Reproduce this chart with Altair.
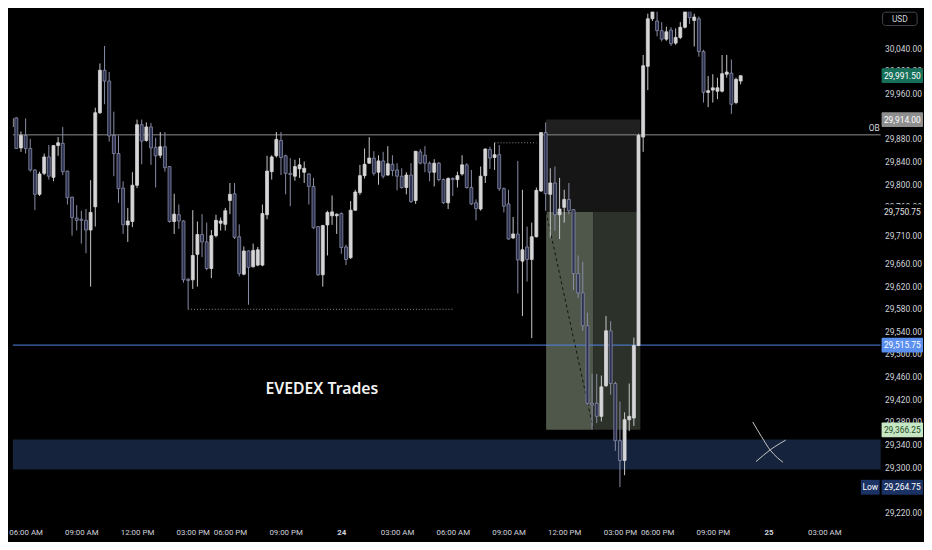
import altair as alt
import pandas as pd

# ---------------- data (15-minute candles) ----------------
opens = [29901, 29917, 29864, 29886, 29863, 29825, 29782, 29819, 29848, 29812,
         29868, 29872, 29823, 29777, 29740, 29738, 29736, 29719, 29760, 29926,
         30001, 29982, 29886, 29854, 29793, 29728, 29734, 29798, 29905, 29877,
         29901, 29865, 29851, 29866, 29831, 29734, 29746, 29735, 29632, 29631,
         29676, 29711, 29698, 29651, 29709, 29731, 29729, 29771, 29783, 29707,
         29641, 29682, 29654, 29657, 29657, 29746, 29822, 29850, 29877, 29850,
         29819, 29814, 29827, 29821, 29818, 29796, 29725, 29640, 29728, 29744,
         29744, 29748, 29689, 29670, 29754, 29785, 29815, 29837, 29846, 29821,
         29841, 29816, 29835, 29825, 29814, 29794, 29816, 29771, 29857, 29851,
         29837, 29821, 29837, 29808, 29767, 29810, 29808, 29818, 29834, 29794,
         29767, 29756, 29815, 29861, 29847, 29852, 29792, 29765, 29705, 29712,
         29664, 29689, 29667, 29707, 29788, 29891, 29782, 29802, 29746, 29759,
         29773, 29755, 29642, 29608, 29550, 29413, 29413, 29390, 29444, 29541,
         29448, 29347, 29312, 29384, 29387, 29515, 29883, 30008, 30092, 30088,
         30071, 30056, 30072, 30049, 30059, 30077, 30111, 30089, 30092, 30034,
         29962, 29966, 29964, 29964, 29994, 29996, 29944, 29982]
highs = [29934, 29918, 29893, 29916, 29880, 29826, 29822, 29854, 29869, 29869,
         29883, 29901, 29824, 29778, 29763, 29753, 29756, 29807, 29935, 30013,
         30044, 29998, 29928, 29886, 29805, 29758, 29821, 29914, 29914, 29909,
         29908, 29882, 29892, 29892, 29832, 29783, 29764, 29736, 29634, 29754,
         29734, 29747, 29732, 29719, 29746, 29741, 29758, 29802, 29802, 29729,
         29690, 29683, 29695, 29689, 29764, 29850, 29851, 29892, 29892, 29852,
         29846, 29843, 29846, 29840, 29819, 29811, 29726, 29728, 29753, 29780,
         29748, 29750, 29693, 29770, 29790, 29834, 29863, 29883, 29858, 29851,
         29857, 29867, 29851, 29837, 29828, 29821, 29837, 29858, 29862, 29867,
         29840, 29844, 29839, 29810, 29812, 29812, 29822, 29851, 29837, 29825,
         29773, 29831, 29863, 29866, 29873, 29869, 29794, 29790, 29742, 29841,
         29790, 29725, 29732, 29794, 29892, 29909, 29828, 29831, 29811, 29790,
         29802, 29755, 29674, 29663, 29573, 29465, 29465, 29462, 29567, 29558,
         29451, 29416, 29397, 29448, 29529, 29889, 30028, 30101, 30118, 30115,
         30086, 30078, 30077, 30075, 30086, 30117, 30117, 30101, 30096, 30037,
         29991, 29994, 29988, 30028, 30028, 30020, 29988, 29992]
lows = [29892, 29862, 29857, 29854, 29822, 29754, 29779, 29816, 29808, 29805,
        29850, 29816, 29764, 29709, 29718, 29695, 29678, 29619, 29725, 29924,
        29941, 29875, 29814, 29767, 29712, 29698, 29724, 29793, 29835, 29875,
        29834, 29794, 29846, 29822, 29732, 29712, 29721, 29626, 29579, 29615,
        29619, 29671, 29648, 29634, 29706, 29718, 29718, 29747, 29703, 29637,
        29639, 29587, 29653, 29655, 29655, 29738, 29808, 29847, 29816, 29782,
        29761, 29806, 29811, 29802, 29764, 29721, 29638, 29619, 29674, 29728,
        29712, 29677, 29657, 29668, 29753, 29781, 29810, 29836, 29815, 29799,
        29810, 29815, 29814, 29789, 29792, 29782, 29767, 29765, 29835, 29821,
        29805, 29796, 29805, 29765, 29756, 29779, 29794, 29815, 29792, 29763,
        29736, 29753, 29802, 29827, 29825, 29788, 29750, 29702, 29703, 29607,
        29567, 29628, 29528, 29706, 29786, 29753, 29706, 29718, 29703, 29732,
        29747, 29613, 29599, 29541, 29410, 29367, 29378, 29381, 29442, 29428,
        29329, 29265, 29286, 29364, 29373, 29514, 29857, 29966, 30088, 30061,
        30052, 30053, 30044, 30046, 30056, 30075, 30083, 30043, 30025, 29944,
        29936, 29944, 29950, 29962, 29988, 29924, 29941, 29976]
closes = [29916, 29863, 29886, 29863, 29825, 29782, 29818, 29848, 29814, 29868,
          29873, 29822, 29776, 29741, 29736, 29736, 29719, 29750, 29926, 30001,
          29982, 29885, 29854, 29792, 29728, 29735, 29798, 29905, 29876, 29901,
          29864, 29850, 29866, 29829, 29734, 29747, 29735, 29631, 29630, 29674,
          29711, 29698, 29651, 29709, 29736, 29735, 29753, 29782, 29706, 29642,
          29682, 29653, 29683, 29684, 29748, 29823, 29848, 29879, 29847, 29819,
          29817, 29831, 29834, 29828, 29796, 29723, 29640, 29727, 29750, 29751,
          29747, 29688, 29667, 29754, 29786, 29815, 29835, 29846, 29819, 29841,
          29814, 29836, 29824, 29814, 29794, 29816, 29769, 29858, 29837, 29837,
          29821, 29837, 29808, 29767, 29810, 29808, 29815, 29834, 29794, 29765,
          29757, 29814, 29862, 29846, 29852, 29792, 29761, 29703, 29712, 29666,
          29684, 29667, 29707, 29789, 29891, 29783, 29802, 29746, 29756, 29773,
          29753, 29642, 29608, 29550, 29413, 29410, 29390, 29442, 29541, 29448,
          29347, 29312, 29384, 29390, 29515, 29886, 30009, 30092, 30110, 30071,
          30056, 30069, 30048, 30059, 30077, 30111, 30094, 30095, 30034, 29962,
          29965, 29970, 29970, 29995, 29998, 29941, 29985, 29991.5]

x_tick_idx = [3, 15, 27, 39, 47, 59, 71, 83, 95, 107, 119, 131, 139, 151, 163, 175]
x_tick_labels = ["06:00 AM", "09:00 AM", "12:00 PM", "03:00 PM", "06:00 PM", "09:00 PM", "24",
                 "03:00 AM", "06:00 AM", "09:00 AM", "12:00 PM", "03:00 PM", "06:00 PM",
                 "09:00 PM", "25", "03:00 AM"]
y_ticks = [30040, 30000, 29960, 29920, 29880, 29840, 29800, 29760, 29710, 29660, 29620,
           29580, 29540, 29500, 29460, 29420, 29380, 29340, 29300, 29220]

ob_level = 29887
stop_price = 29914.0
entry_price = 29750.75
target_price = 29366.25
last_price = 29991.5
session_low = 29264.75
blue_level = 29515.75
zone_top, zone_bottom = 29349, 29296
box_left, box_mid, box_right = 115.1, 125.3, 135.4

tag_prices = [last_price, stop_price, entry_price, blue_level, target_price, session_low]
tag_fills = ["#17705a", "#8e8e8e", "#000000", "#5b8ff0", "#c6e6c4", "#1b3264"]
tag_text_colors = ["#ffffff", "#ffffff", "#e0e0e0", "#ffffff", "#1e4d22", "#ffffff"]

swing_low_idx = [38, 95.2]
swing_low_price = 29579
swing_high_idx = [104, 113]
swing_high_price = 29873

cross_a_idx = [159.6, 161.5, 163.4, 164.9, 166.1]
cross_a_price = [29380, 29354, 29330, 29317, 29309]
cross_b_idx = [160.3, 163.4, 166.7]
cross_b_price = [29310, 29331, 29348]

label_idx, label_price = 66.8, 29444

# ---------------- layout ----------------
W, H = 880, 514
X_DOMAIN = [1.329, 186.08]
Y_DOMAIN = [29209.5, 30104.4]
FONT = "Roboto, sans-serif"
AXIS_COLOR = "#d1d4dc"

xs = alt.Scale(domain=X_DOMAIN, nice=False, zero=False)
ys = alt.Scale(domain=Y_DOMAIN, nice=False, zero=False)

label_expr = " : ".join(f"datum.value == {v} ? '{l}'" for v, l in zip(x_tick_idx, x_tick_labels)) + " : ''"
day_test = " || ".join(f"datum.value == {v}" for v, l in zip(x_tick_idx, x_tick_labels) if l.isdigit())

x_axis = alt.Axis(values=x_tick_idx, labelExpr=label_expr, title=None, ticks=False, domain=False,
                  grid=False, labelOverlap=False, labelFlush=False, labelPadding=10,
                  labelColor=AXIS_COLOR, labelFontSize=8, labelFont=FONT,
                  labelFontWeight={"condition": {"test": day_test, "value": "bold"}, "value": "normal"},
                  minExtent=20, maxExtent=20)
y_axis = alt.Axis(values=y_ticks, format=",.2f", orient="right", title=None, ticks=False, domain=False,
                  grid=False, labelOverlap=False, labelFlush=False, labelPadding=4, labelAlign="left",
                  labelColor=AXIS_COLOR, labelFontSize=8.5, labelFont=FONT, minExtent=44, maxExtent=44)


def X(f):
    return alt.X(f, type="quantitative", scale=xs, axis=x_axis)


def Y(f):
    return alt.Y(f, type="quantitative", scale=ys, axis=y_axis)


candles = pd.DataFrame({"idx": list(range(len(opens))), "open": opens, "high": highs,
                        "low": lows, "close": closes})
candles["dir"] = ["up" if c >= o else "down" for o, c in zip(opens, closes)]

zone_df = pd.DataFrame({"top": [zone_top], "bottom": [zone_bottom]})
zone = alt.Chart(zone_df).mark_rect(color="#15243c").encode(
    x=alt.value(0), x2=alt.value(W), y=Y("top"), y2="bottom")

boxes_df = pd.DataFrame({
    "x0": [box_left, box_left, box_left, box_mid],
    "x1": [box_right, box_right, box_mid, box_right],
    "p0": [stop_price, ob_level, entry_price, entry_price],
    "p1": [ob_level, entry_price, target_price, target_price],
    "fill": ["#202020", "#161616", "#4f574a", "#2c3229"],
})
boxes = alt.Chart(boxes_df).mark_rect(clip=True).encode(
    x=X("x0"), x2="x1", y=Y("p0"), y2="p1", color=alt.Color("fill:N", scale=None))

levels_df = pd.DataFrame({"price": [ob_level, blue_level], "col": ["#8f8f8f", "#4f86e8"]})
levels = alt.Chart(levels_df).mark_rule(strokeWidth=1).encode(
    y=Y("price"), color=alt.Color("col:N", scale=None))

dots_df = pd.DataFrame({"x0": [swing_low_idx[0], swing_high_idx[0]],
                        "x1": [swing_low_idx[1], swing_high_idx[1]],
                        "price": [swing_low_price, swing_high_price]})
dots = alt.Chart(dots_df).mark_rule(color="#8c8c8c", strokeDash=[1, 2], strokeWidth=1).encode(
    x=X("x0"), x2="x1", y=Y("price"))

diag_df = pd.DataFrame({"idx": [box_left, box_mid], "price": [entry_price, target_price]})
diag = alt.Chart(diag_df).mark_line(color="#111111", strokeDash=[3, 3], strokeWidth=1).encode(
    x=X("idx"), y=Y("price"))

dir_scale_wick = alt.Scale(domain=["up", "down"], range=["#c9c9cc", "#8a8ea8"])
wicks = alt.Chart(candles).mark_rule(strokeWidth=1, clip=True).encode(
    x=X("idx"), y=Y("low"), y2="high",
    color=alt.Color("dir:N", scale=dir_scale_wick, legend=None))
bodies = alt.Chart(candles).mark_bar(width=3, strokeWidth=0.8, clip=True).encode(
    x=X("idx"), y=Y("open"), y2="close",
    fill=alt.Fill("dir:N", scale=alt.Scale(domain=["up", "down"], range=["#d6d6d9", "#2d3150"]), legend=None),
    stroke=alt.Stroke("dir:N", scale=alt.Scale(domain=["up", "down"], range=["#d6d6d9", "#8a8ea8"]), legend=None))

cross_df = pd.DataFrame({"idx": cross_a_idx + cross_b_idx, "price": cross_a_price + cross_b_price,
                         "line": ["a"] * len(cross_a_idx) + ["b"] * len(cross_b_idx)})
cross = alt.Chart(cross_df).mark_line(color="#c8c8c8", strokeWidth=1, interpolate="monotone").encode(
    x=X("idx"), y=Y("price"), detail="line:N")

title_df = pd.DataFrame({"idx": [label_idx], "price": [label_price], "t": ["EVEDEX Trades"]})
title = alt.Chart(title_df).mark_text(font="Noto Sans", fontSize=16, fontWeight=600, color="#f2f2f2",
                                      align="center", baseline="middle", dy=3).encode(
    x=X("idx"), y=Y("price"), text="t:N")

ob_df = pd.DataFrame({"price": [ob_level], "t": ["OB"]})
ob_text = alt.Chart(ob_df).mark_text(font=FONT, fontSize=8.5, color="#d1d4dc", align="right",
                                     baseline="bottom", dy=-2).encode(
    x=alt.value(W - 1), y=Y("price"), text="t:N")

tags_df = pd.DataFrame({"price": tag_prices, "fill": tag_fills, "tc": tag_text_colors})
tag_rects = alt.Chart(tags_df).mark_rect(yOffset=-7.5, y2Offset=7.5, cornerRadius=1).encode(
    x=alt.value(W + 1), x2=alt.value(W + 43), y=Y("price"), y2="price",
    color=alt.Color("fill:N", scale=None))
tag_texts = alt.Chart(tags_df).mark_text(font=FONT, fontSize=8.5, align="center", baseline="middle").encode(
    x=alt.value(W + 22), y=Y("price"), text=alt.Text("price:Q", format=",.2f"),
    color=alt.Color("tc:N", scale=None))

low_df = pd.DataFrame({"price": [session_low], "t": ["Low"]})
low_rect = alt.Chart(low_df).mark_rect(yOffset=-7.5, y2Offset=7.5, color="#1b3264").encode(
    x=alt.value(W - 20), x2=alt.value(W - 1), y=Y("price"), y2="price")
low_text = alt.Chart(low_df).mark_text(font=FONT, fontSize=8.5, color="#ffffff", align="center",
                                       baseline="middle").encode(
    x=alt.value(W - 10.5), y=Y("price"), text="t:N")

usd_df = pd.DataFrame({"t": ["USD"]})
usd_box = alt.Chart(usd_df).mark_rect(fill="#000000", stroke="#43464f", strokeWidth=1, cornerRadius=3).encode(
    x=alt.value(W + 2), x2=alt.value(W + 37), y=alt.value(0.5), y2=alt.value(14))
usd_text = alt.Chart(usd_df).mark_text(font=FONT, fontSize=8.5, color="#d1d4dc", align="center",
                                       baseline="middle").encode(
    x=alt.value(W + 19.5), y=alt.value(7.5), text="t:N")

chart = alt.layer(
    zone, boxes, levels, dots, diag, wicks, bodies, cross, title, ob_text,
    tag_rects, tag_texts, low_rect, low_text, usd_box, usd_text
).properties(width=W, height=H, background="#000000", padding=0).configure_view(stroke=None)

chart.save("out.html", embed_options={"renderer": "svg", "actions": False})
